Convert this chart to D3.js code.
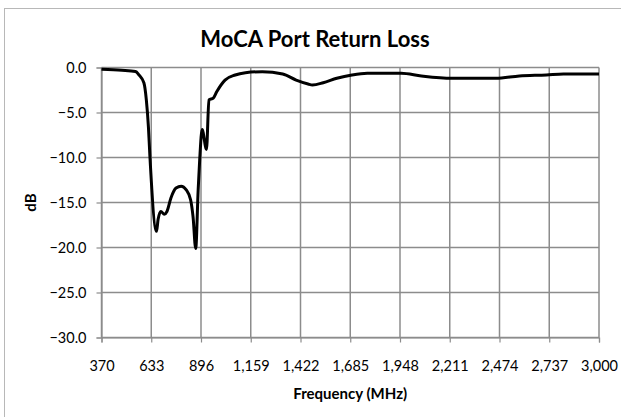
<!DOCTYPE html>
<html>
<head>
<meta charset="utf-8">
<script src="https://cdn.jsdelivr.net/npm/d3@7"></script>
<style>
  body { margin: 0; background: #fff; }
  svg { display: block; font-family: Lato, "Open Sans", sans-serif; }
</style>
</head>
<body>
<div id="chart"></div>
<script>
// frequency (MHz) and return loss (dB)
const freq = [370, 478, 550, 567, 594, 607, 618, 626, 661, 669, 684, 702, 716, 737, 764, 791, 818, 841, 854, 868,
  881, 889, 902, 925, 938, 961, 979, 1023, 1077, 1131, 1220, 1328, 1399, 1462, 1485, 1542, 1614, 1694, 1775,
  1954, 2061, 2222, 2454, 2579, 2722, 2812, 3000]
const loss = [-0.2, -0.3, -0.45, -0.8, -1.7, -3.6, -6.6, -9.9, -18.2, -16.9, -16.0, -16.3, -16.0, -14.5, -13.4, -13.2, -13.6, -14.7, -16.6, -20.1,
  -13.6, -10.3, -6.9, -9.1, -3.6, -3.4, -2.7, -1.4, -0.83, -0.58, -0.47, -0.72, -1.4, -1.83, -1.94, -1.69, -1.2, -0.83, -0.64,
  -0.64, -0.94, -1.2, -1.2, -0.94, -0.83, -0.72, -0.72]
const xTicks = [370, 633, 896, 1159, 1422, 1685, 1948, 2211, 2474, 2737, 3000]
const yTicks = [0, -5, -10, -15, -20, -25, -30]

const W = 621, H = 417
const MARGIN = { TOP: 67.5, LEFT: 101.5, RIGHT: 22, BOTTOM: 79.5 }
const WIDTH = W - MARGIN.LEFT - MARGIN.RIGHT
const HEIGHT = H - MARGIN.TOP - MARGIN.BOTTOM
const GRID = "#8c8c8c"

const svg = d3.select("#chart").append("svg")
  .attr("width", W)
  .attr("height", H)

// chart border (runs off the right and bottom of the picture)
svg.append("rect")
  .attr("x", 4.5).attr("y", 8.5)
  .attr("width", 630).attr("height", 420)
  .attr("fill", "none")
  .attr("stroke", "#b8b8b8")
  .attr("stroke-width", 1)

svg.append("text")
  .attr("x", 315)
  .attr("y", 47)
  .attr("text-anchor", "middle")
  .attr("font-size", "22px")
  .attr("font-weight", "bold")
  .text("MoCA Port Return Loss")

const g = svg.append("g")
  .attr("transform", `translate(${MARGIN.LEFT}, ${MARGIN.TOP})`)

const x = d3.scaleLinear().domain([370, 3000]).range([0, WIDTH])
const y = d3.scaleLinear().domain([-30, 0]).range([HEIGHT, 0])

// gridlines
g.append("g").selectAll("line")
  .data(xTicks)
  .join("line")
    .attr("x1", d => x(d)).attr("x2", d => x(d))
    .attr("y1", 0).attr("y2", HEIGHT)
    .attr("stroke", GRID)
    .attr("stroke-width", 1.5)

g.append("g").selectAll("line")
  .data(yTicks)
  .join("line")
    .attr("x1", 0).attr("x2", WIDTH)
    .attr("y1", d => y(d)).attr("y2", d => y(d))
    .attr("stroke", GRID)
    .attr("stroke-width", 1.5)

const xAxisCall = d3.axisBottom(x)
  .tickValues(xTicks)
  .tickFormat(d3.format(","))
  .tickSize(5)
  .tickPadding(18)
const xAxisGroup = g.append("g")
  .attr("transform", `translate(0, ${HEIGHT})`)
  .call(xAxisCall)

const yAxisCall = d3.axisLeft(y)
  .tickValues(yTicks)
  .tickFormat(d3.format(".1f"))
  .tickSize(5)
  .tickPadding(10)
const yAxisGroup = g.append("g").call(yAxisCall)

for (const ag of [xAxisGroup, yAxisGroup]) {
  ag.select(".domain").attr("stroke", GRID).attr("stroke-width", 1.2)
  ag.selectAll(".tick line").attr("stroke", GRID).attr("stroke-width", 1.2)
  ag.selectAll(".tick text")
    .attr("font-family", "Lato, sans-serif")
    .attr("font-size", "14.5px")
    .attr("fill", "#000")
}

g.append("text")
  .attr("x", WIDTH / 2)
  .attr("y", HEIGHT + 61)
  .attr("text-anchor", "middle")
  .attr("font-size", "15px")
  .attr("font-weight", "bold")
  .text("Frequency (MHz)")

g.append("text")
  .attr("transform", "rotate(-90)")
  .attr("x", -HEIGHT / 2)
  .attr("y", -66)
  .attr("text-anchor", "middle")
  .attr("font-size", "15px")
  .attr("font-weight", "bold")
  .text("dB")

const line = d3.line()
  .x((d, i) => x(freq[i]))
  .y(d => y(d))
  .curve(d3.curveMonotoneX)

g.append("path")
  .datum(loss)
  .attr("d", line)
  .attr("fill", "none")
  .attr("stroke", "#000")
  .attr("stroke-width", 3)
  .attr("stroke-linejoin", "round")
</script>
</body>
</html>
